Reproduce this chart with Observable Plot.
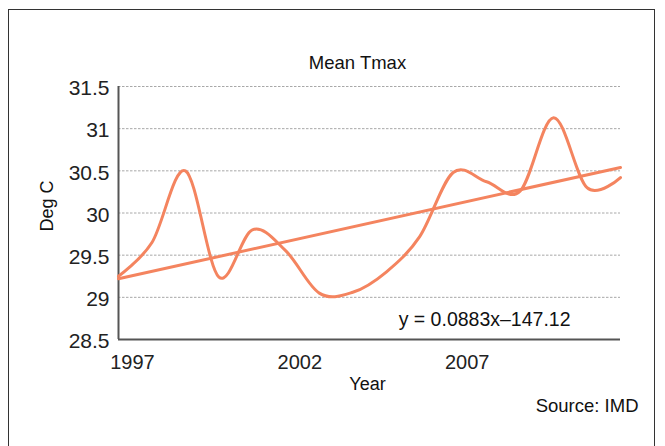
<!DOCTYPE html>
<html>
<head>
<meta charset="utf-8">
<script src="https://cdn.jsdelivr.net/npm/d3@7"></script>
<script src="https://cdn.jsdelivr.net/npm/@observablehq/plot@0.6"></script>
<style>
  html, body { margin: 0; padding: 0; background: #fff; width: 665px; height: 446px; overflow: hidden; }
  #box { position: absolute; left: 8px; top: 9px; width: 647px; height: 470px; border: 1.5px solid #333; box-sizing: border-box; }
  #chart { position: absolute; left: 0; top: 0; }
</style>
</head>
<body>
<div id="box"></div>
<div id="chart"></div>
<script>
const years = [1997, 1998, 1999, 2000, 2001, 2002, 2003, 2004, 2005, 2006, 2007, 2008, 2009, 2010, 2011, 2012];
const tmax  = [29.25, 29.65, 30.5, 29.24, 29.8, 29.55, 29.05, 29.06, 29.3, 29.72, 30.48, 30.37, 30.26, 31.13, 30.3, 30.42];
const trendYears = [1997, 2012];
const trendValues = [29.22, 30.54];
const yTicks = [28.5, 29, 29.5, 30, 30.5, 31, 31.5];
const xTicks = [1997, 2002, 2007];
const titleText = "Mean Tmax";
const yLabel = "Deg C";
const xLabel = "Year";
const equation = "y = 0.0883x\u2013147.12";
const source = "Source: IMD";

const data = years.map((y, i) => ({year: y, t: tmax[i]}));
const trend = trendYears.map((y, i) => ({year: y, t: trendValues[i]}));
const lineColor = "#f4845f";
const font = "Liberation Sans, Arial, sans-serif";

const chart = Plot.plot({
  width: 665,
  height: 446,
  marginLeft: 118,
  marginRight: 45,
  marginTop: 86,
  marginBottom: 107,
  style: {fontFamily: font, background: "transparent", overflow: "visible"},
  x: {domain: [1997, 2012], axis: null},
  y: {domain: [28.5, 31.5], axis: null},
  marks: [
    Plot.ruleY(yTicks.slice(1), {stroke: "#a8a8a8", strokeWidth: 1, strokeDasharray: "2.5,1.5"}),
    Plot.ruleX([1997], {stroke: "#555", strokeWidth: 2}),
    Plot.ruleY([28.5], {stroke: "#555", strokeWidth: 2}),
    Plot.axisY({ticks: yTicks, tickSize: 0, tickPadding: 9, fontSize: 21, fill: "#222", label: null, dy: 2, tickFormat: d => String(d)}),
    Plot.text(xTicks, {x: d => d, y: 28.5, text: d => String(d), dy: 23, dx: 14, fontSize: 20, fill: "#222"}),
    Plot.line(trend, {x: "year", y: "t", stroke: lineColor, strokeWidth: 3}),
    Plot.line(data, {x: "year", y: "t", stroke: lineColor, strokeWidth: 3, curve: "cardinal"}),
    Plot.text([titleText], {frameAnchor: "top", text: d => d, textAnchor: "middle", dx: -12, dy: -31, fontSize: 18.5, fill: "#111"}),
    Plot.text([yLabel], {frameAnchor: "left", text: d => d, textAnchor: "middle", rotate: -90, dx: -71, dy: -7, fontSize: 18, fill: "#111"}),
    Plot.text([xLabel], {frameAnchor: "bottom", text: d => d, textAnchor: "middle", dy: 50, dx: -2, fontSize: 18, fill: "#111"}),
    Plot.text([equation], {frameAnchor: "bottom-right", text: d => d, textAnchor: "end", dx: -50, dy: -14, fontSize: 19.5, fill: "#111"}),
    Plot.text([source], {frameAnchor: "bottom-right", text: d => d, textAnchor: "end", dx: 18, dy: 72, fontSize: 18.5, fill: "#111"})
  ]
});
document.getElementById("chart").appendChild(chart);
</script>
</body>
</html>
